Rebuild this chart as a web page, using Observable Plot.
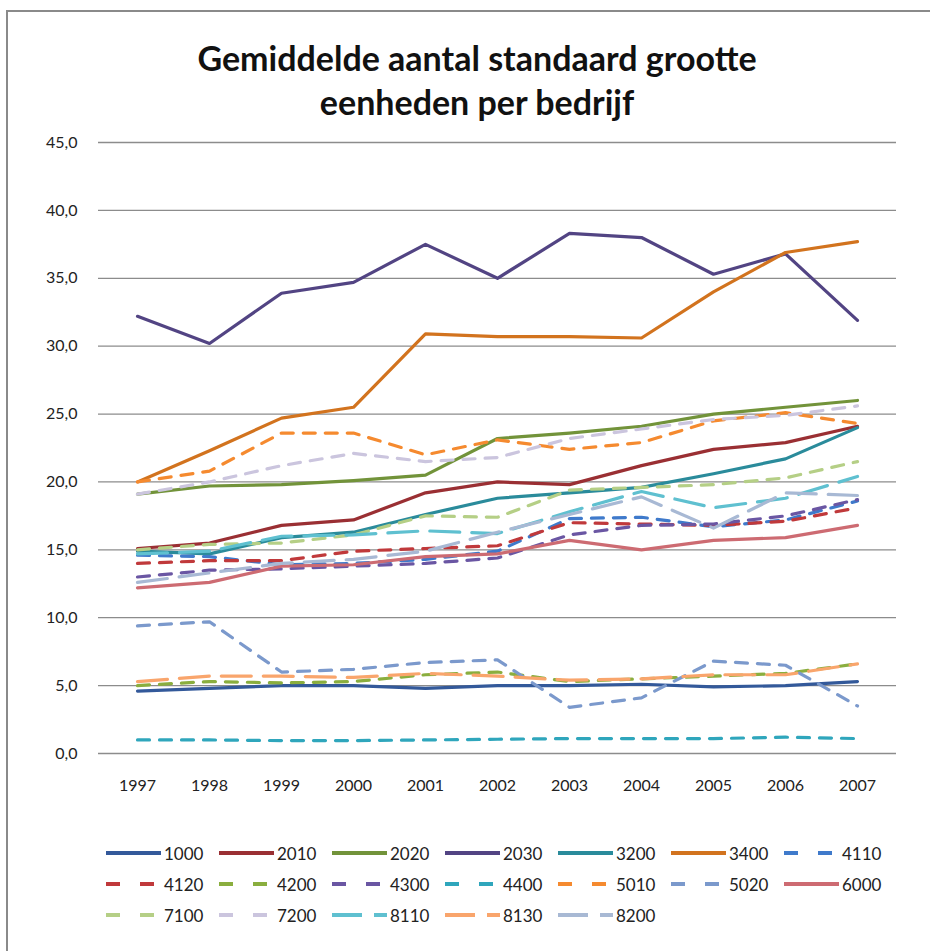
<!DOCTYPE html>
<html>
<head>
<meta charset="utf-8">
<script src="https://cdn.jsdelivr.net/npm/d3@7"></script>
<script src="https://cdn.jsdelivr.net/npm/@observablehq/plot@0.6"></script>
<style>
  body { margin: 0; background: #fff; font-family: Lato, "Open Sans", sans-serif; }
  #frame { position: absolute; left: 6px; top: 10px; width: 960px; height: 980px; border: 2px solid #8a8a8a; box-sizing: border-box; }
  #title { position: absolute; left: 0; width: 954px; top: 36px; text-align: center; font-weight: bold; font-size: 34px; line-height: 44px; color: #111; }
  #chart { position: absolute; left: 0; top: 120px; }
  #legend { position: absolute; left: 106px; top: 838px; width: 800px; }
  .item { position: absolute; height: 30px; display: flex; align-items: center; font-size: 17px; color: #222; }
</style>
</head>
<body>
<div id="frame"></div>
<div id="title">Gemiddelde aantal standaard grootte<br>eenheden per bedrijf</div>
<div id="chart"></div>
<div id="legend"></div>
<script>
const years = [1997, 1998, 1999, 2000, 2001, 2002, 2003, 2004, 2005, 2006, 2007];
const codes = ["1000","2010","2020","2030","3200","3400","4110","4120","4200","4300","4400","5010","5020","6000","7100","7200","8110","8130","8200"];
const yTicks = [0, 5, 10, 15, 20, 25, 30, 35, 40, 45];

const v1000 = [4.6, 4.8, 5.0, 5.0, 4.8, 5.0, 5.0, 5.1, 4.9, 5.0, 5.3];
const v2010 = [15.1, 15.5, 16.8, 17.2, 19.2, 20.0, 19.8, 21.2, 22.4, 22.9, 24.1];
const v2020 = [19.1, 19.7, 19.8, 20.1, 20.5, 23.2, 23.6, 24.1, 25.0, 25.5, 26.0];
const v2030 = [32.2, 30.2, 33.9, 34.7, 37.5, 35.0, 38.3, 38.0, 35.3, 36.8, 31.9];
const v3200 = [14.9, 14.7, 15.9, 16.3, 17.6, 18.8, 19.2, 19.6, 20.6, 21.7, 24.0];
const v3400 = [20.0, 22.3, 24.7, 25.5, 30.9, 30.7, 30.7, 30.6, 34.0, 36.9, 37.7];
const v4110 = [14.6, 14.5, 13.9, 14.0, 14.3, 14.9, 17.3, 17.4, 16.7, 17.2, 18.6];
const v4120 = [14.0, 14.2, 14.2, 14.9, 15.1, 15.3, 17.0, 16.9, 16.8, 17.1, 18.1];
const v4200 = [5.0, 5.3, 5.2, 5.3, 5.8, 6.0, 5.3, 5.5, 5.7, 5.9, 6.6];
const v4300 = [13.0, 13.5, 13.6, 13.8, 14.0, 14.4, 16.1, 16.8, 16.9, 17.5, 18.7];
const v4400 = [1.0, 1.0, 0.95, 0.95, 1.0, 1.05, 1.1, 1.1, 1.1, 1.2, 1.1];
const v5010 = [20.0, 20.8, 23.6, 23.6, 22.0, 23.1, 22.4, 22.9, 24.5, 25.1, 24.3];
const v5020 = [9.4, 9.7, 6.0, 6.2, 6.7, 6.9, 3.4, 4.1, 6.8, 6.5, 3.5];
const v6000 = [12.2, 12.6, 13.8, 13.9, 14.5, 14.7, 15.7, 15.0, 15.7, 15.9, 16.8];
const v7100 = [15.0, 15.4, 15.5, 16.1, 17.5, 17.4, 19.4, 19.6, 19.8, 20.3, 21.5];
const v7200 = [19.1, 20.0, 21.2, 22.1, 21.5, 21.8, 23.2, 23.9, 24.6, 24.9, 25.6];
const v8110 = [14.7, 14.9, 16.0, 16.1, 16.4, 16.2, 17.8, 19.3, 18.1, 18.8, 20.4];
const v8130 = [5.3, 5.7, 5.7, 5.6, 5.9, 5.7, 5.4, 5.5, 5.8, 5.8, 6.6];
const v8200 = [12.6, 13.3, 14.0, 14.3, 14.9, 16.3, 17.6, 18.9, 16.6, 19.2, 19.0];

const values = [v1000, v2010, v2020, v2030, v3200, v3400, v4110, v4120, v4200, v4300, v4400, v5010, v5020, v6000, v7100, v7200, v8110, v8130, v8200];
const colors = ["#33599a","#9a2f33","#72933a","#524483","#2a8b9b","#d2731e","#3f7acb","#c0393b","#8aae3e","#6a56a3","#2fa6bc","#f58a2f","#7b99cc","#cd6b72","#b5cf86","#cbc5de","#5fc0d0","#f9a56c","#a8b9d4"];
const styles = ["solid","solid","solid","solid","solid","solid","dash","dash","dash","dash","dash","dash","dash","solid","dash","dash","long","long","long"];
const dashFor = {solid: null, dash: "12,10", long: "30,12"};

const rows = [];
codes.forEach((c, k) => years.forEach((yr, i) => rows.push({code: c, year: yr, value: values[k][i]})));

const fmt = d => d3.format(".1f")(d).replace(".", ",");

const chart = Plot.plot({
  width: 930, height: 700,
  marginLeft: 98, marginRight: 34, marginTop: 22, marginBottom: 67,
  style: {fontFamily: "Lato, sans-serif", fontSize: "16px", color: "#222", background: "transparent"},
  x: {type: "point", domain: years, padding: 0.5, label: null, tickSize: 0, tickPadding: 26, tickFormat: d => String(d)},
  y: {domain: [0, 45], ticks: yTicks, tickFormat: fmt, label: null, tickSize: 0, tickPadding: 21},
  marks: [
    Plot.ruleY(yTicks, {stroke: "#8c8c8c", strokeWidth: 1.3}),
    ...codes.map((c, k) => Plot.lineY(rows.filter(r => r.code === c), {
      x: "year", y: "value", stroke: colors[k], strokeWidth: 3.2,
      strokeDasharray: dashFor[styles[k]], strokeLinejoin: "round"
    }))
  ]
});
document.getElementById("chart").appendChild(chart);

const legend = document.getElementById("legend");
codes.forEach((c, k) => {
  const col = k % 7, row = Math.floor(k / 7);
  const div = document.createElement("div");
  div.className = "item";
  div.style.left = (col * 113) + "px";
  div.style.top = (row * 31) + "px";
  const dash = dashFor[styles[k]];
  div.innerHTML = `<svg width="58" height="10"><line x1="0" y1="5" x2="55" y2="5" stroke="${colors[k]}" stroke-width="4" ${dash ? `stroke-dasharray="${dash === "12,10" ? "14,20" : "30,12"}"` : ""}/></svg><span>${c}</span>`;
  legend.appendChild(div);
});
</script>
</body>
</html>
